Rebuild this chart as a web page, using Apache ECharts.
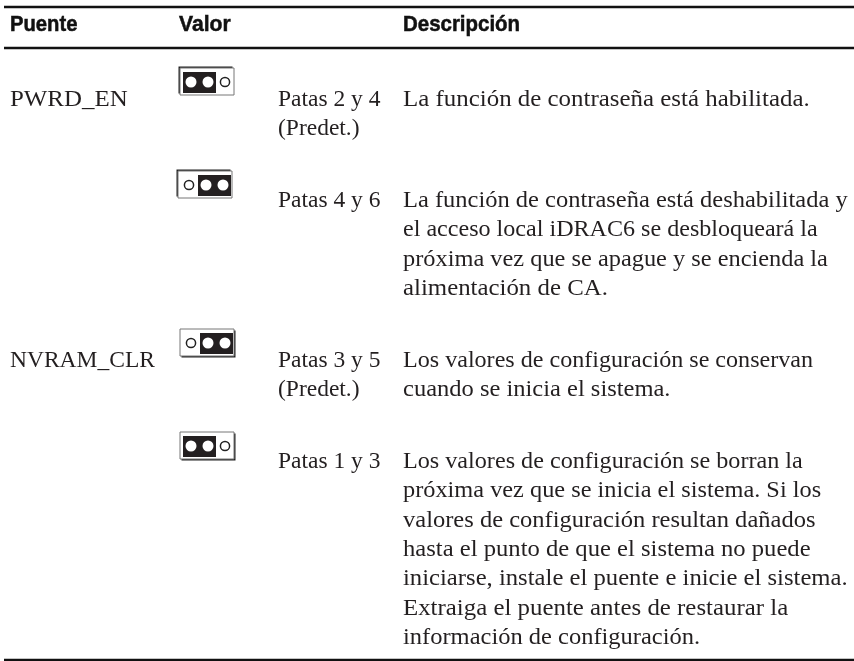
<!DOCTYPE html>
<html>
<head>
<meta charset="utf-8">
<style>html,body{margin:0;padding:0;background:#fff}#main{width:854px;height:661px}</style>
<script src="https://cdn.jsdelivr.net/npm/echarts@6/dist/echarts.min.js"></script>
</head>
<body>
<div id="main"></div>
<script>
// table content
var headers = ['Puente', 'Valor', 'Descripción'];
var puentes = ['PWRD_EN', '', 'NVRAM_CLR', ''];
var cubiertas = ['izq', 'der', 'der', 'izq'];
var patas = [
    ['Patas 2 y 4', '(Predet.)'],
    ['Patas 4 y 6'],
    ['Patas 3 y 5', '(Predet.)'],
    ['Patas 1 y 3']
];
var descripciones = [
    ['La función de contraseña está habilitada.'],
    ['La función de contraseña está deshabilitada y',
     'el acceso local iDRAC6 se desbloqueará la',
     'próxima vez que se apague y se encienda la',
     'alimentación de CA.'],
    ['Los valores de configuración se conservan',
     'cuando se inicia el sistema.'],
    ['Los valores de configuración se borran la',
     'próxima vez que se inicia el sistema. Si los',
     'valores de configuración resultan dañados',
     'hasta el punto de que el sistema no puede',
     'iniciarse, instale el puente e inicie el sistema.',
     'Extraiga el puente antes de restaurar la',
     'información de configuración.']
];

// page layout, in axis units (the axes run 1:1 with the page)
var colX = { puente: 10, valor: 179, patas: 278, desc: 403, end: 854, start: 4 };
var ruleY = [7, 48, 660];
var headerY = 25;
var rowY = [100, 201, 361, 462];
var lineH = 29.3;
var jumperX = [180, 178, 180, 180];
var jumperY = [68, 171, 329, 432];
var shadow = [-1.5, -1.5, 1.5, 1.5];

// Garamond runs wider than Liberation Serif, so each line is stretched to its width
var nameFit = [1.06, 1, 1, 1];
var headerFit = [0.92, 0.96, 0.93];
var descFit = [
    [1.06],
    [1.042, 1.025, 1.037, 1.057],
    [1.025, 1.043],
    [1.028, 1.035, 1.043, 1.048, 1.05, 1.058, 1.042]
];

var serif = '"Liberation Serif", serif';
var sans = '"Liberation Sans", sans-serif';
var ink = '#231f20';

function text(api, x, y, s, fit) {
    var p = api.coord([x, y]);
    return {
        type: 'text',
        x: p[0], y: p[1],
        scaleX: fit || 1,
        style: { text: s, fontFamily: serif, fontSize: 23.5, fill: ink,
            verticalAlign: 'middle', align: 'left' }
    };
}

function headerText(api, x, s, fit) {
    var p = api.coord([x, headerY]);
    return {
        type: 'text',
        x: p[0], y: p[1],
        scaleX: fit,
        style: { text: s, fontFamily: sans, fontSize: 22, fontWeight: 'bold', fill: '#111',
            stroke: '#111', lineWidth: 0.5, verticalAlign: 'middle', align: 'left' }
    };
}

function rule(api, y) {
    var a = api.coord([colX.start, y]);
    var b = api.coord([colX.end, y]);
    return { type: 'line', shape: { x1: a[0], y1: a[1], x2: b[0], y2: b[1] },
        style: { stroke: '#111', lineWidth: 2.5 } };
}

function jumper(api, r) {
    var p = api.coord([jumperX[r], jumperY[r]]);
    var w = 54, h = 27;
    var izq = cubiertas[r] === 'izq';
    var pins = [11, 28, 45];
    var open = izq ? 2 : 0;
    var kids = [
        { type: 'rect', shape: { x: p[0] + shadow[r], y: p[1] + shadow[r], width: w, height: h },
            style: { fill: '#222' } },
        { type: 'rect', shape: { x: p[0], y: p[1], width: w, height: h },
            style: { fill: '#fff', stroke: '#777', lineWidth: 1 } },
        { type: 'rect', shape: { x: p[0] + (izq ? 3 : 20), y: p[1] + 4, width: 33, height: h - 6 },
            style: { fill: ink } }
    ];
    pins.forEach(function (px, i) {
        kids.push({
            type: 'circle',
            shape: { cx: p[0] + px, cy: p[1] + 14, r: i === open ? 4.6 : 5.5 },
            style: i === open ? { fill: '#fff', stroke: '#222', lineWidth: 1.5 } : { fill: '#fff' }
        });
    });
    return { type: 'group', children: kids };
}

function renderTable(params, api) {
    var kids = [];
    ruleY.forEach(function (y) { kids.push(rule(api, y)); });
    [colX.puente, colX.valor, colX.desc].forEach(function (x, i) {
        kids.push(headerText(api, x, headers[i], headerFit[i]));
    });
    puentes.forEach(function (name, r) {
        if (name) kids.push(text(api, colX.puente, rowY[r], name, nameFit[r]));
        kids.push(jumper(api, r));
        patas[r].forEach(function (s, i) {
            kids.push(text(api, colX.patas, rowY[r] + i * lineH, s));
        });
        descripciones[r].forEach(function (s, i) {
            kids.push(text(api, colX.desc, rowY[r] + i * lineH, s, descFit[r][i]));
        });
    });
    return { type: 'group', children: kids };
}

var chart = echarts.init(document.getElementById('main'));

var option = {
    animation: false,
    backgroundColor: '#fff',
    grid: { left: 0, right: 0, top: 0, bottom: 0 },
    xAxis: { type: 'value', min: 0, max: 854, show: false },
    yAxis: { type: 'value', min: 0, max: 661, inverse: true, show: false },
    series: [{
        type: 'custom',
        coordinateSystem: 'cartesian2d',
        silent: true,
        clip: false,
        data: [[0, 0]],
        renderItem: renderTable
    }]
};

chart.setOption(option);

window.onresize = chart.resize;
</script>
</body>
</html>
